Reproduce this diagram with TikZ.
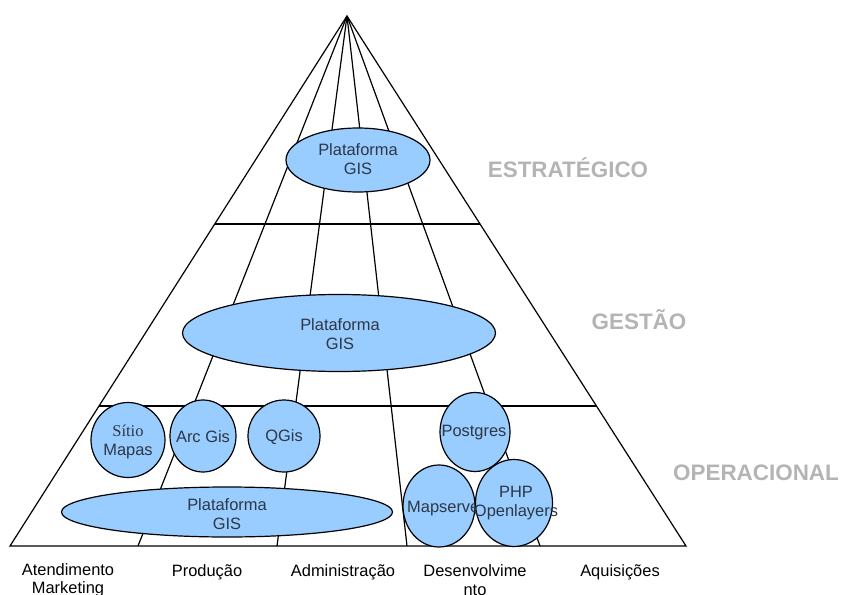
\documentclass[tikz,border=0pt]{standalone}
\usepackage{fontspec}
\setmainfont{Liberation Sans}
\newfontfamily\sitiofont{Liberation Serif}
\usetikzlibrary{shapes.geometric,calc}
\definecolor{bubfill}{RGB}{153,204,255}
\definecolor{bubtext}{RGB}{45,55,70}
\definecolor{levelgray}{RGB}{180,180,180}

\begin{document}
\begin{tikzpicture}[
  x=1bp, y=-1bp,
  font=\fontsize{16.5}{18.5}\selectfont,
  edge/.style={line width=1.2bp, black},
  bub/.style={ellipse, draw=black, fill=bubfill, line width=1.2bp, inner sep=0pt},
  txt/.style={text=bubtext, align=center, inner sep=0pt},
  level/.style={font=\fontsize{22.5}{24}\selectfont\bfseries, text=levelgray},
  area/.style={align=center, text=black, inner sep=0pt},
]
  \useasboundingbox (0,0) rectangle (845,595);

  % Pyramid outline and fan
  \coordinate (apex) at (347,16);
  \coordinate (bl) at (10,546);
  \coordinate (br) at (686,546);
  \coordinate (b1) at (138,546);
  \coordinate (b2) at (277,546);
  \coordinate (b3) at (407,546);
  \coordinate (b4) at (540,546);
  \draw[edge] (bl) -- (apex) -- (br) -- cycle;
  \foreach \b in {b1,b2,b3,b4}
    \draw[edge] (apex) -- (\b);
  \coordinate (l1) at ($(apex)!0.3925!(bl)$);
  \coordinate (r1) at ($(apex)!0.3925!(br)$);
  \coordinate (l2) at ($(apex)!0.7358!(bl)$);
  \coordinate (r2) at ($(apex)!0.7358!(br)$);
  \draw[edge] (l1) -- (r1);
  \draw[edge] (l2) -- (r2);

  % Level names
  \node[level] (estr) at (568,168) {ESTRATÉGICO};
  \node[level] (gest) at (639,320) {GESTÃO};
  \node[level] (oper) at (756,473) {OPERACIONAL};

  % Strategic and management
  \node[bub, minimum width=144bp, minimum height=64bp] (top) at (358,160) {};
  \node[txt] (topt) at (358,159) {Plataforma\\GIS};
  \node[bub, minimum width=313bp, minimum height=77bp] (mid) at (339,333) {};
  \node[txt] (midt) at (340,334) {Plataforma\\GIS};

  % Operational
  \node[bub, minimum width=74bp, minimum height=75bp] (sitio) at (128,440) {};
  \node[txt] (sitiot) at (128,442) {{\sitiofont Sítio}\\Mapas};
  \node[bub, minimum width=66bp, minimum height=72bp] (arc) at (203,436) {};
  \node[txt] (arct) at (203,437) {Arc Gis};
  \node[bub, minimum width=72bp, minimum height=72bp] (qgis) at (284,436) {};
  \node[txt] (qgist) at (284,437) {QGis};
  \node[bub, minimum width=331bp, minimum height=50bp] (low) at (227,512) {};
  \node[txt] (lowt) at (227,514) {Plataforma\\GIS};

  \node[bub, minimum width=70bp, minimum height=79bp] (pg) at (475,432) {};
  \node[txt] (pgt) at (474,433) {Postgres};
  \node[bub, minimum width=72bp, minimum height=82bp] (ms) at (439,506) {};
  \node[txt] (mst) at (446,509) {Mapserver};
  \node[bub, minimum width=77bp, minimum height=87bp] (php) at (514,503) {};
  \node[txt] (phpt) at (516,503) {PHP\\Openlayers};

  % Areas along the base
  \node[area] (atend) at (68,580) {Atendimento\\Marketing};
  \node[area] (prod) at (207,572) {Produção};
  \node[area] (adm) at (343,572) {Administração};
  \node[area] (desv) at (475,580) {Desenvolvime\\nto};
  \node[area] (aqui) at (620,572) {Aquisições};
\end{tikzpicture}
\end{document}
